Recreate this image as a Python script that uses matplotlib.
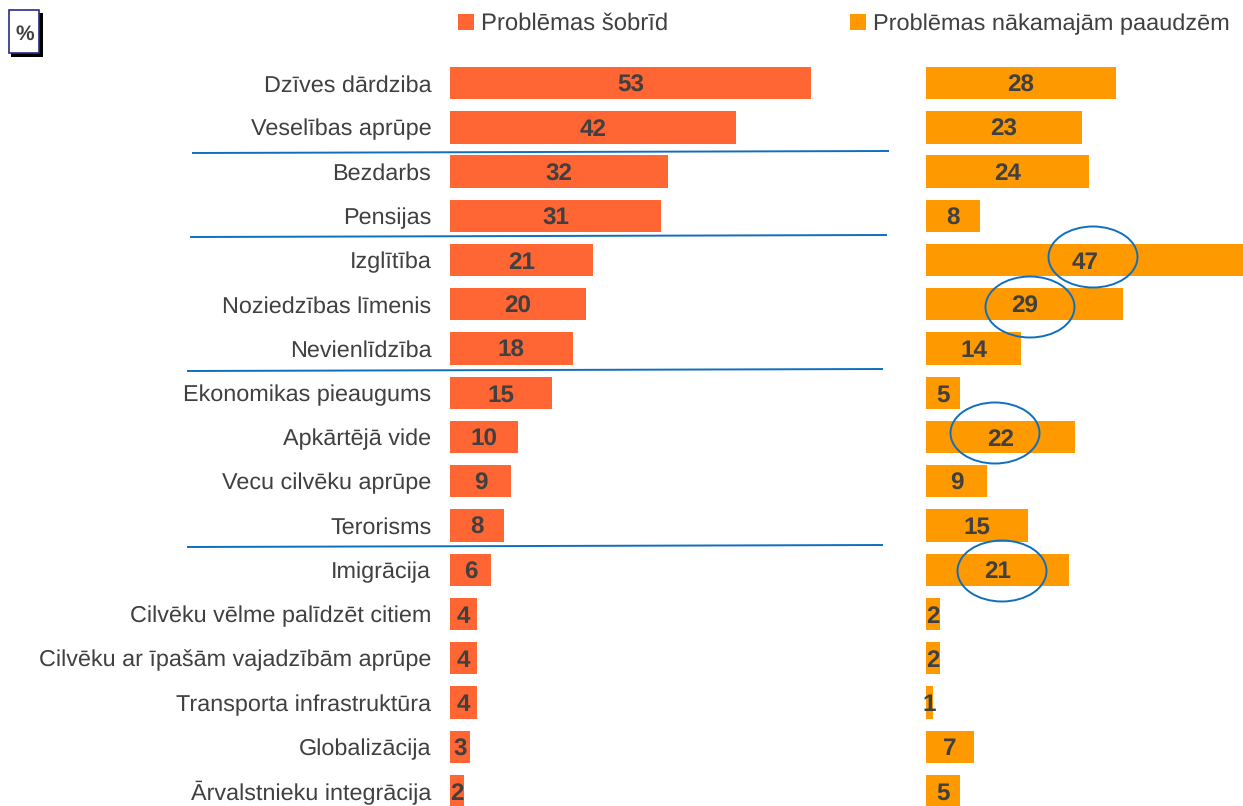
import matplotlib
matplotlib.use('Agg')
import matplotlib.pyplot as plt
from matplotlib.patches import Ellipse, Rectangle

plt.rcParams['font.family'] = ['Liberation Sans', 'DejaVu Sans']
plt.rcParams['text.hinting'] = 'no_hinting'

categories = ['Dzīves dārdziba', 'Veselības aprūpe', 'Bezdarbs', 'Pensijas', 'Izglītība',
              'Noziedzības līmenis', 'Nevienlīdzība', 'Ekonomikas pieaugums', 'Apkārtējā vide',
              'Vecu cilvēku aprūpe', 'Terorisms', 'Imigrācija', 'Cilvēku vēlme palīdzēt citiem',
              'Cilvēku ar īpašām vajadzībām aprūpe', 'Transporta infrastruktūra', 'Globalizācija',
              'Ārvalstnieku integrācija']
now_values = [53, 42, 32, 31, 21, 20, 18, 15, 10, 9, 8, 6, 4, 4, 4, 3, 2]
future_values = [28, 23, 24, 8, 47, 29, 14, 5, 22, 9, 15, 21, 2, 2, 1, 7, 5]
legend_labels = ['Problēmas šobrīd', 'Problēmas nākamajām paaudzēm']

now_color = '#FF6633'
future_color = '#FF9900'
text_color = '#404040'
line_color = '#0F6FBE'

W, H = 1243, 806
fig = plt.figure(figsize=(W / 100, H / 100), dpi=100)


def px_axes(x0, x1, y0, y1):
    return fig.add_axes([x0 / W, 1 - y1 / H, (x1 - x0) / W, (y1 - y0) / H])


def draw_bars(ax, values, color, xmax):
    ys = list(range(len(values)))
    ax.barh(ys, values, height=0.73, color=color)
    ax.set_xlim(0, xmax)
    ax.set_ylim(16.34, -0.5)
    for y, v in zip(ys, values):
        ax.text(v / 2, y, str(v), ha='center', va='center_baseline', fontsize=17.5,
                fontweight='bold', color=text_color)
    for s in ax.spines.values():
        s.set_visible(False)
    ax.set_xticks([])
    ax.tick_params(axis='y', length=0)


ax1 = px_axes(450, 900, 61, 806)
draw_bars(ax1, now_values, now_color, 450 / 6.81)
ax1.set_yticks(range(len(categories)))
ax1.set_yticklabels(categories, fontsize=16.8, color=text_color, va='center_baseline')
ax1.tick_params(axis='y', pad=13.5)

ax2 = px_axes(926, 1243, 61, 806)
draw_bars(ax2, future_values, future_color, 317 / 6.79)
ax2.set_yticks([])

# overlay in pixel coordinates for legend, separators and hand drawn circles
ov = fig.add_axes([0, 0, 1, 1], zorder=5)
ov.set_xlim(0, W)
ov.set_ylim(H, 0)
ov.axis('off')
ov.patch.set_alpha(0)

ov.add_patch(Rectangle((458, 14), 16, 16, color=now_color, lw=0))
ov.text(481, 21.5, legend_labels[0], fontsize=17.2, color=text_color, va='center_baseline')
ov.add_patch(Rectangle((850, 14), 16, 16, color=future_color, lw=0))
ov.text(873, 21.5, legend_labels[1], fontsize=16.9, color=text_color, va='center_baseline')

ov.add_patch(Rectangle((11, 13), 32, 44, color='black', lw=0))
ov.add_patch(Rectangle((9, 10), 30, 43, facecolor='white', edgecolor='#2B2B8C', lw=1.2))
ov.text(24.5, 32, '%', fontsize=15, fontweight='bold', color=text_color, ha='center', va='center_baseline')

for x0, y0, x1, y1 in [(193, 153, 888, 151), (191, 237, 886, 235),
                       (188, 371, 882, 369), (188, 547, 882, 545)]:
    ov.plot([x0, x1], [y0, y1], color=line_color, lw=1.4)

for cx, cy in [(1093, 257), (1030, 307), (995, 433), (1002, 571)]:
    ov.add_patch(Ellipse((cx, cy), 89, 61, fill=False, edgecolor=line_color, lw=1.4))

fig.savefig('out.png', dpi=100)
